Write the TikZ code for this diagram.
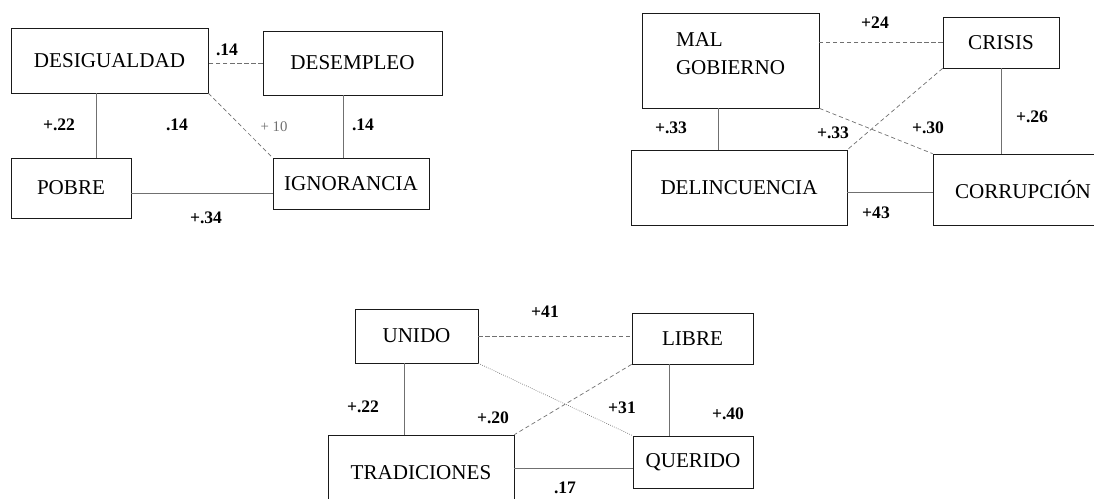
\documentclass[tikz,border=0pt]{standalone}
\usepackage{fontspec}
\setmainfont{Liberation Serif}
\usepackage{tikz}
\usetikzlibrary{calc}
\definecolor{ink}{HTML}{1A1A1A}
\definecolor{inkgray}{HTML}{707070}
\tikzset{
  caja/.style={draw=ink,line width=0.5pt,align=center,inner sep=0pt,
               font=\fontsize{15}{20}\selectfont},
  enlace/.style={draw=inkgray,line width=0.5pt},
  cruce/.style={draw=inkgray,line width=0.5pt,densely dashed},
  peso/.style={font=\fontsize{12.5}{14}\selectfont\bfseries,inner sep=0pt},
  pesofino/.style={font=\fontsize{10.5}{12}\selectfont,inner sep=0pt,text=inkgray}
}
\begin{document}
\begin{tikzpicture}[x=0.025cm,y=-0.025cm]
  \useasboundingbox (0,0) rectangle (1094,499);
  % problemas sociales
  \node[caja,minimum width=4.925cm,minimum height=1.625cm] (desig) at (109.5,60.5) {DESIGUALDAD};
  \node[caja,minimum width=4.475cm,minimum height=1.6cm] (desemp) at (352.5,63) {DESEMPLEO};
  \node[caja,minimum width=3.0cm,minimum height=1.5cm] (pobre) at (71,188) {POBRE};
  \node[caja,minimum width=3.9cm,minimum height=1.275cm] (ignor) at (351,183.5) {IGNORANCIA};
  \coordinate (d1) at ($(desig.south)+(-13,0)$);
  \coordinate (d2) at ($(desemp.south)+(-9,0)$);
  \coordinate (d3) at ($(ignor.west)+(0,9.5)$);
  \draw[cruce] (desemp.west) -- (desemp.west -| desig.east);
  \draw[enlace] (d1) -- (d1 |- pobre.north);
  \draw[cruce] (desig.south east) -- (ignor.north west);
  \draw[enlace] (d2) -- (d2 |- ignor.north);
  \draw[enlace] (d3) -- (d3 -| pobre.east);
  \node[peso] (w1) at (227,50) {.14};
  \node[peso] (w2) at (59,125) {+.22};
  \node[peso] (w3) at (177,125) {.14};
  \node[pesofino] (w4) at (274,127) {+ 10};
  \node[peso] (w5) at (363,125) {.14};
  \node[peso] (w6) at (206,218) {+.34};
  % gobierno
  \node[caja,minimum width=4.425cm,minimum height=2.375cm,align=left,text depth=10pt] (malgob) at (730.5,60.5) {MAL\\GOBIERNO};
  \node[caja,minimum width=2.9cm,minimum height=1.275cm] (crisis) at (1001,42.5) {CRISIS};
  \node[caja,minimum width=5.4cm,minimum height=1.875cm] (delinc) at (739,187.5) {DELINCUENCIA};
  \node[caja,minimum width=4.5cm,minimum height=1.775cm] (corrup) at (1023,189.5) {CORRUPCIÓN};
  \coordinate (g1) at ($(malgob.south)+(-12,0)$);
  \coordinate (g2) at ($(delinc.east)+(0,5)$);
  \draw[cruce] (crisis.west) -- (crisis.west -| malgob.east);
  \draw[enlace] (g1) -- (g1 |- delinc.north);
  \draw[cruce] (crisis.south west) -- (delinc.north east);
  \draw[cruce] (malgob.south east) -- (corrup.north west);
  \draw[enlace] (crisis.south) -- (crisis.south |- corrup.north);
  \draw[enlace] (g2) -- (g2 -| corrup.west);
  \node[peso] (w7) at (875,23) {+24};
  \node[peso] (w8) at (671,128) {+.33};
  \node[peso] (w9) at (833,133) {+.33};
  \node[peso] (w10) at (928,128) {+.30};
  \node[peso] (w11) at (1032,117) {+.26};
  \node[peso] (w12) at (876,213) {+43};
  % valores
  \node[caja,minimum width=3.075cm,minimum height=1.35cm] (unido) at (416.5,336) {UNIDO};
  \node[caja,minimum width=3.025cm,minimum height=1.275cm] (libre) at (692.5,338.5) {LIBRE};
  \node[caja,minimum width=4.65cm,minimum height=1.9cm] (tradic) at (421,473) {TRADICIONES};
  \node[caja,minimum width=3.0cm,minimum height=1.3cm] (querido) at (693,462) {QUERIDO};
  \coordinate (v1) at ($(unido.south)+(-12,0)$);
  \coordinate (v2) at ($(libre.south)+(-23,0)$);
  \coordinate (v3) at ($(querido.west)+(0,6)$);
  \draw[cruce] (unido.east) -- (unido.east -| libre.west);
  \draw[enlace] (v1) -- (v1 |- tradic.north);
  \draw[cruce] (libre.south west) -- (tradic.north east);
  \draw[enlace,densely dotted] (unido.south east) -- (querido.north west);
  \draw[enlace] (v2) -- (v2 |- querido.north);
  \draw[enlace] (v3) -- (v3 -| tradic.east);
  \node[peso] (w13) at (545,312) {+41};
  \node[peso] (w14) at (363,407) {+.22};
  \node[peso] (w15) at (493,418) {+.20};
  \node[peso] (w16) at (622,408) {+31};
  \node[peso] (w17) at (728,414) {+.40};
  \node[peso] (w18) at (565,488) {.17};
\end{tikzpicture}
\end{document}
